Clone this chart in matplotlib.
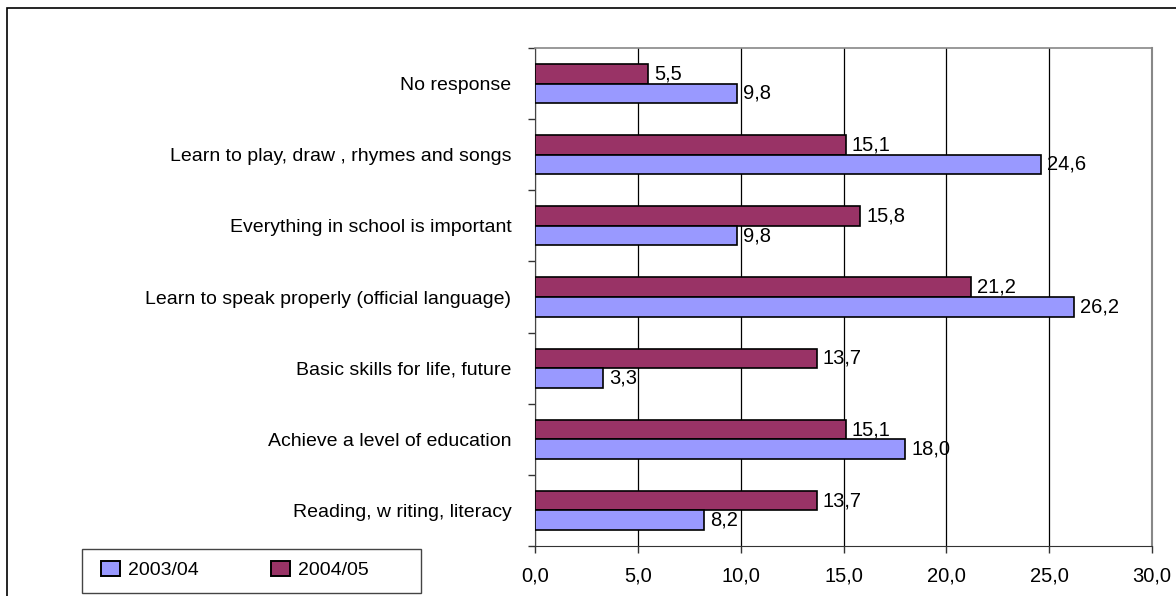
import matplotlib
matplotlib.use("Agg")
import matplotlib.pyplot as plt
from matplotlib.patches import Patch, Rectangle

plt.rcParams['font.family'] = ['Liberation Sans', 'DejaVu Sans']

categories = ["No response",
              "Learn to play, draw , rhymes and songs",
              "Everything in school is important",
              "Learn to speak properly (official language)",
              "Basic skills for life, future",
              "Achieve a level of education",
              "Reading, w riting, literacy"]
series_names = ["2003/04", "2004/05"]
values_2003 = [9.8, 24.6, 9.8, 26.2, 3.3, 18.0, 8.2]
values_2004 = [5.5, 15.1, 15.8, 21.2, 13.7, 15.1, 13.7]
x_ticks = [0, 5, 10, 15, 20, 25, 30]

color_2003 = "#9999FF"
color_2004 = "#993366"

W, H = 1176, 596
fig = plt.figure(figsize=(W / 100, H / 100), dpi=100)
ax = fig.add_axes([535 / W, 1 - 546 / H, (1152 - 535) / W, (546 - 48) / H])

n = len(categories)
centers = list(range(n))
bh = 0.275
y04 = [c - bh / 2 for c in centers]
y03 = [c + bh / 2 for c in centers]

ax.barh(y04, values_2004, height=bh, color=color_2004, edgecolor="black", linewidth=1.2, zorder=3)
ax.barh(y03, values_2003, height=bh, color=color_2003, edgecolor="black", linewidth=1.2, zorder=3)

def fmt(v):
    return f"{v:.1f}".replace(".", ",")

FS_VAL = 14.5
FS_CAT = 14
for y, v in zip(y04, values_2004):
    ax.text(v + 0.3, y, fmt(v), va="center", ha="left", fontsize=FS_VAL, zorder=4)
for y, v in zip(y03, values_2003):
    ax.text(v + 0.3, y, fmt(v), va="center", ha="left", fontsize=FS_VAL, zorder=4)

ax.set_xlim(0, 30)
ax.set_ylim(n - 0.5, -0.5)
ax.set_xticks(x_ticks)
ax.set_xticklabels([fmt(t) for t in x_ticks], fontsize=FS_VAL)
ax.tick_params(axis="x", direction="out", length=5, width=1, pad=10, colors="#333333", labelcolor="black")

ax.set_yticks(centers)
ax.set_yticklabels(categories, fontsize=FS_CAT)
ax.tick_params(axis="y", which="major", length=0, pad=17)
ax.set_yticks([c - 0.5 for c in centers] + [n - 0.5], minor=True)
ax.tick_params(axis="y", which="minor", direction="out", length=5, width=1, colors="#333333")

ax.grid(axis="x", color="black", linewidth=0.9, zorder=1)
ax.set_axisbelow(True)
ax.spines["top"].set_color("#888888")
ax.spines["right"].set_color("#888888")
ax.spines["right"].set_linewidth(1.5)
ax.spines["top"].set_linewidth(1.2)
ax.spines["left"].set_color("#444444")
ax.spines["bottom"].set_color("#333333")

# legend frame drawn as a rectangle, entries placed inside
fig.patches.append(Rectangle((82 / W, 1 - 593 / H), (421 - 82) / W, (593 - 549) / H,
                             transform=fig.transFigure, fill=False,
                             edgecolor="#444444", linewidth=1.0))
handles = [Patch(facecolor=color_2003, edgecolor="black", linewidth=1.4),
           Patch(facecolor=color_2004, edgecolor="black", linewidth=1.4)]
LFS = 14
em = LFS * 100 / 72
leg = fig.legend(handles, series_names, loc="center left",
                 bbox_to_anchor=(101 / W, 1 - 570 / H), ncol=2, fontsize=LFS,
                 frameon=False, handlelength=19 / em, handleheight=15 / em,
                 handletextpad=8 / em, columnspacing=72 / em,
                 borderpad=0, borderaxespad=0)

# outer chart border (left and top visible)
fig.patches.append(Rectangle((7 / W, -0.1), 1.2, 1 - 8 / H + 0.1, transform=fig.transFigure,
                             fill=False, edgecolor="black", linewidth=1.2, clip_on=False))

fig.savefig("out.png", dpi=100)
